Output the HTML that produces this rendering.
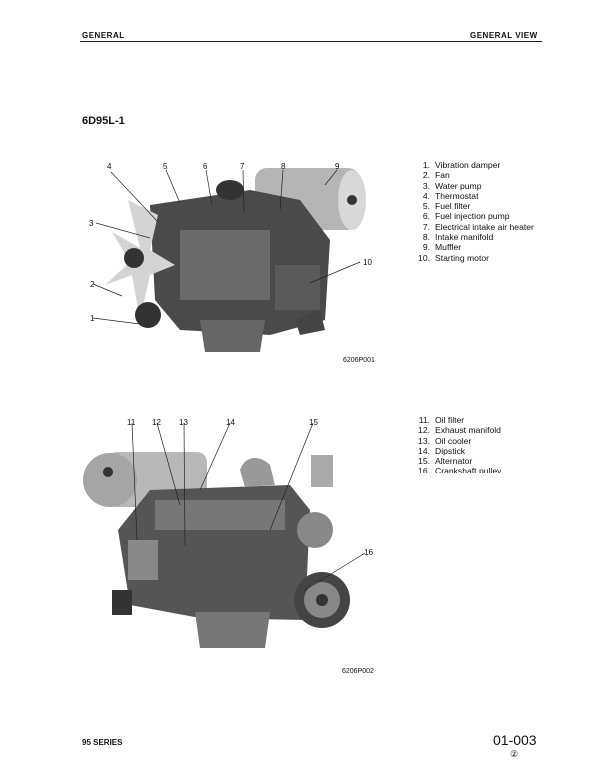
<!DOCTYPE html>
<html><head><meta charset="utf-8"><style>
body{margin:0;background:#fff;}
.p{position:relative;width:605px;height:777px;overflow:hidden;font-family:"Liberation Sans",sans-serif;color:#111;}
.t{position:absolute;white-space:nowrap;}
.hd{font-size:8px;font-weight:bold;letter-spacing:0.5px;}
.li{font-size:8.6px;line-height:10.3px;}
.li div span{display:inline-block;width:13px;text-align:right;margin-right:5px;}
.n{font-size:8px;font-family:"Liberation Sans Narrow","Liberation Sans",sans-serif;}
</style></head><body><div class="p">
<div class="t hd" style="left:82px;top:31px;">GENERAL</div>
<div class="t hd" style="left:470px;top:31px;">GENERAL VIEW</div>
<div style="position:absolute;left:80px;top:41px;width:462px;height:1px;background:#222;"></div>
<div class="t" style="left:82px;top:115px;font-size:11px;font-weight:bold;">6D95L-1</div>

<svg style="position:absolute;left:0;top:0" width="605" height="777">
<!-- top engine -->
<g>
<rect x="255" y="168" width="105" height="62" rx="12" fill="#b5b5b5"/>
<ellipse cx="352" cy="200" rx="14" ry="30" fill="#d8d8d8"/>
<circle cx="352" cy="200" r="5" fill="#333"/>
<path d="M150 205 L250 190 L300 200 L330 240 L325 320 L270 335 L180 330 L155 300 Z" fill="#4a4a4a"/>
<path d="M200 320 L265 320 L260 352 L205 352 Z" fill="#666"/>
<rect x="180" y="230" width="90" height="70" fill="#6a6a6a"/>
<rect x="275" y="265" width="45" height="45" fill="#5a5a5a"/>
<ellipse cx="230" cy="190" rx="14" ry="10" fill="#333"/>
<path d="M128 200 L140 248 L112 232 L130 262 L105 285 L132 275 L140 320 L150 275 L175 265 L150 250 L158 215 Z" fill="#d4d4d4"/>
<circle cx="134" cy="258" r="10" fill="#333"/>
<circle cx="148" cy="315" r="13" fill="#333"/>
<path d="M295 320 L320 310 L325 330 L300 335 Z" fill="#444"/>
</g>
<g stroke="#222" stroke-width="0.7" fill="none">
<line x1="111" y1="172" x2="158" y2="222"/>
<line x1="166" y1="170" x2="180" y2="203"/>
<line x1="206" y1="170" x2="212" y2="205"/>
<line x1="243" y1="170" x2="244" y2="212"/>
<line x1="283" y1="170" x2="280" y2="210"/>
<line x1="337" y1="170" x2="325" y2="185"/>
<line x1="96" y1="223" x2="150" y2="238"/>
<line x1="93" y1="284" x2="122" y2="296"/>
<line x1="93" y1="318" x2="140" y2="324"/>
<line x1="360" y1="262" x2="310" y2="283"/>
</g>
<!-- bottom engine -->
<g>
<rect x="107" y="452" width="100" height="55" rx="10" fill="#b8b8b8"/>
<circle cx="110" cy="480" r="27" fill="#a5a5a5"/>
<circle cx="108" cy="472" r="5" fill="#333"/>
<path d="M150 490 L290 485 L310 510 L305 620 L200 618 L130 605 L118 530 Z" fill="#555"/>
<rect x="155" y="500" width="130" height="30" fill="#777"/>
<rect x="128" y="540" width="30" height="40" fill="#888"/>
<path d="M195 612 L270 612 L265 648 L200 648 Z" fill="#777"/>
<path d="M240 470 C245 455 260 455 270 465 L275 485 L245 487 Z" fill="#999"/>
<rect x="311" y="455" width="22" height="32" fill="#aaa"/>
<circle cx="315" cy="530" r="18" fill="#888"/>
<circle cx="322" cy="600" r="28" fill="#444"/>
<circle cx="322" cy="600" r="18" fill="#888"/>
<circle cx="322" cy="600" r="6" fill="#333"/>
<rect x="112" y="590" width="20" height="25" fill="#333"/>
</g>
<g stroke="#222" stroke-width="0.7" fill="none">
<line x1="132" y1="423" x2="137" y2="540"/>
<line x1="157" y1="423" x2="180" y2="505"/>
<line x1="184" y1="423" x2="185" y2="545"/>
<line x1="230" y1="423" x2="200" y2="490"/>
<line x1="313" y1="423" x2="270" y2="530"/>
<line x1="365" y1="553" x2="305" y2="590"/>
</g>
</svg>

<div class="t n" style="left:107px;top:162px;">4</div>
<div class="t n" style="left:163px;top:162px;">5</div>
<div class="t n" style="left:203px;top:162px;">6</div>
<div class="t n" style="left:240px;top:162px;">7</div>
<div class="t n" style="left:281px;top:162px;">8</div>
<div class="t n" style="left:335px;top:162px;">9</div>
<div class="t n" style="left:89px;top:219px;">3</div>
<div class="t n" style="left:90px;top:280px;">2</div>
<div class="t n" style="left:90px;top:314px;">1</div>
<div class="t n" style="left:363px;top:258px;">10</div>
<div class="t n" style="left:343px;top:357px;font-size:7px;">6206P001</div>

<div class="t n" style="left:127px;top:418px;">11</div>
<div class="t n" style="left:152px;top:418px;">12</div>
<div class="t n" style="left:179px;top:418px;">13</div>
<div class="t n" style="left:226px;top:418px;">14</div>
<div class="t n" style="left:309px;top:418px;">15</div>
<div class="t n" style="left:362px;top:548px;">.16</div>
<div class="t n" style="left:342px;top:668px;font-size:7px;">6206P002</div>

<div class="t li" style="left:417px;top:160px;">
<div><span>1.</span>Vibration damper</div>
<div><span>2.</span>Fan</div>
<div><span>3.</span>Water pump</div>
<div><span>4.</span>Thermostat</div>
<div><span>5.</span>Fuel filter</div>
<div><span>6.</span>Fuel injection pump</div>
<div><span>7.</span>Electrical intake air heater</div>
<div><span>8.</span>Intake manifold</div>
<div><span>9.</span>Muffler</div>
<div><span>10.</span>Starting motor</div>
</div>
<div class="t li" style="left:417px;top:415px;">
<div><span>11.</span>Oil filter</div>
<div><span>12.</span>Exhaust manifold</div>
<div><span>13.</span>Oil cooler</div>
<div><span>14.</span>Dipstick</div>
<div><span>15.</span>Alternator</div>
<div style="height:7px;overflow:hidden;"><span>16.</span>Crankshaft pulley</div>
</div>

<div class="t" style="left:82px;top:738px;font-size:8px;font-weight:bold;">95 SERIES</div>
<div class="t" style="left:493px;top:732px;font-size:14px;">01-003</div>
<div class="t" style="left:510px;top:749px;font-size:9px;">②</div>
</div></body></html>
